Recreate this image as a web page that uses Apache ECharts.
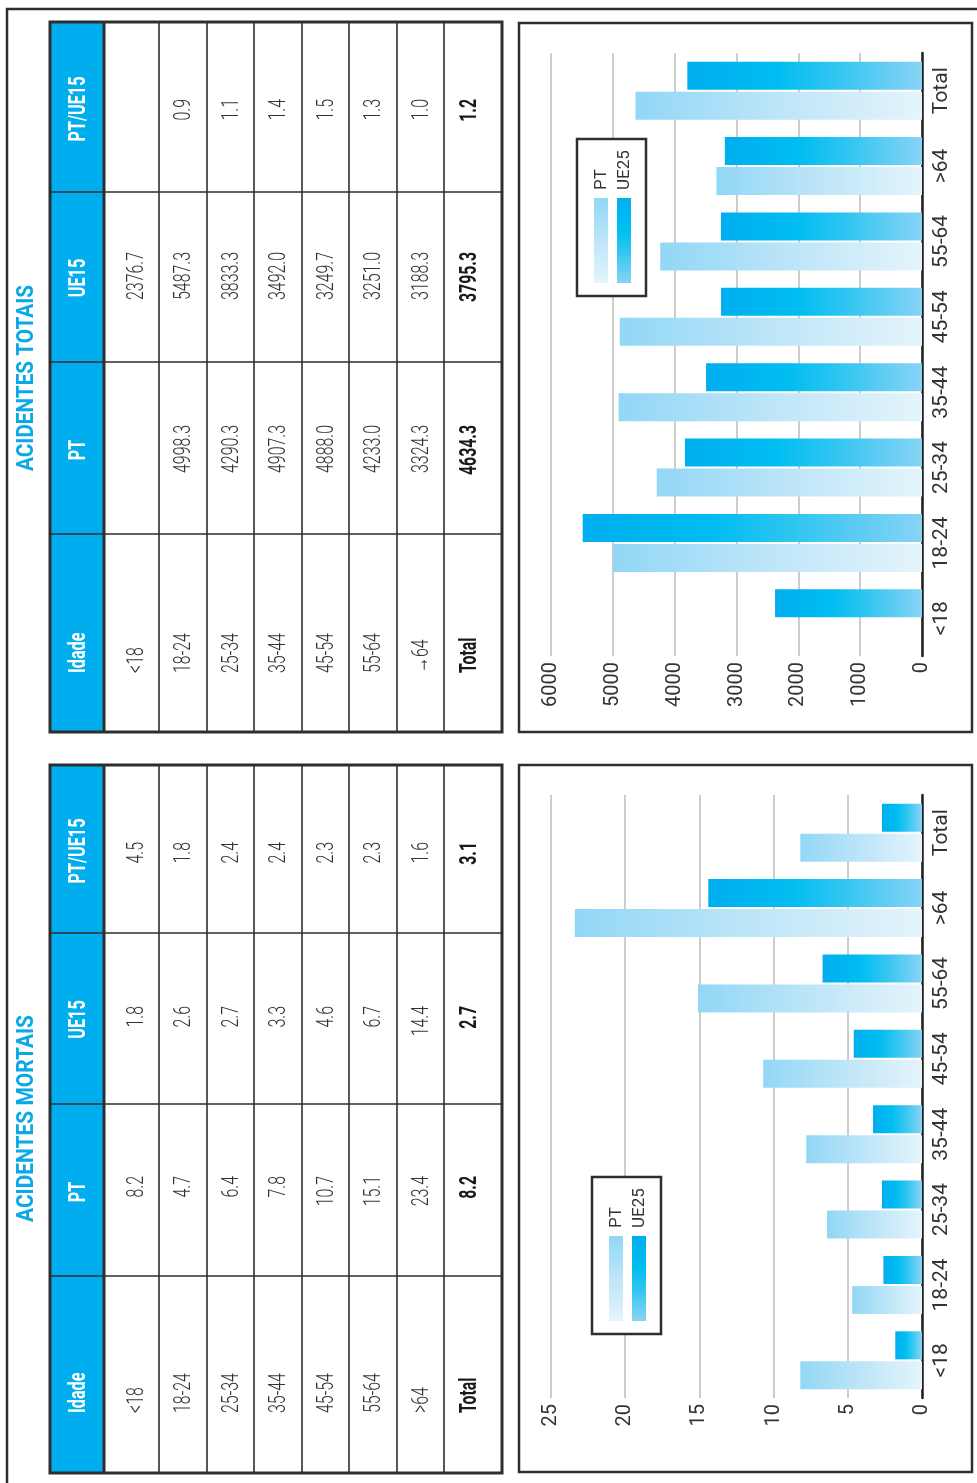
<!DOCTYPE html>
<html>
<head>
<meta charset="utf-8">
<script src="https://cdn.jsdelivr.net/npm/echarts@6/dist/echarts.min.js"></script>
<style>
  html, body { margin: 0; padding: 0; background: #fff; }
  #chart { width: 977px; height: 1483px; }
</style>
</head>
<body>
<div id="chart"></div>
<script>
// data
const categories = ['<18', '18-24', '25-34', '35-44', '45-54', '55-64', '>64', 'Total'];
const totaisAgeLabels = ['<18', '18-24', '25-34', '35-44', '45-54', '55-64', '→64', 'Total'];
const mortaisAgeLabels = ['<18', '18-24', '25-34', '35-44', '45-54', '55-64', '>64', 'Total'];
const tableHeaders = ['Idade', 'PT', 'UE15', 'PT/UE15'];
const seriesNames = ['PT', 'UE25'];

const totaisPT = [null, 4998.3, 4290.3, 4907.3, 4888.0, 4233.0, 3324.3, 4634.3];
const totaisUE = [2376.7, 5487.3, 3833.3, 3492.0, 3249.7, 3251.0, 3188.3, 3795.3];
const totaisRatio = [null, 0.9, 1.1, 1.4, 1.5, 1.3, 1.0, 1.2];

const mortaisPT = [8.2, 4.7, 6.4, 7.8, 10.7, 15.1, 23.4, 8.2];
const mortaisUE = [1.8, 2.6, 2.7, 3.3, 4.6, 6.7, 14.4, 2.7];
const mortaisRatio = [4.5, 1.8, 2.4, 2.4, 2.3, 2.3, 1.6, 3.1];

const totaisTicks = { min: 0, max: 6000, interval: 1000 };
const mortaisTicks = { min: 0, max: 25, interval: 5 };

const BLUE = '#00aeef';
const TITLE_BLUE = '#0aa9e6';
const LINE = '#2e2e2e';

// measuring, to squeeze Roboto into the narrow DIN-like look
const mctx = document.createElement('canvas').getContext('2d');
function fit(text, weight, size, target) {
  mctx.font = weight + ' ' + size + 'px Roboto';
  return target / mctx.measureText(text).width;
}
const dataScale = fit('4998.3', '300', 24, 48);
const boldScale = fit('4634.3', 'bold', 24, 50);
const headScale = fit('PT/UE15', 'bold', 23, 65);

const g = [];

function line(x1, y1, x2, y2, w, color) {
  g.push({ type: 'line', silent: true, shape: { x1, y1, x2, y2 },
    style: { stroke: color || LINE, lineWidth: w } });
}
function box(x, y, w, h, lw, fill, z) {
  g.push({ type: 'rect', silent: true, z: z || 0, shape: { x, y, width: w, height: h },
    style: { fill: fill || 'rgba(0,0,0,0)', stroke: LINE, lineWidth: lw } });
}
function vtext(str, x, y, size, weight, fill, align, scale, z) {
  g.push({ type: 'text', silent: true, x, y, z: z || 1, rotation: Math.PI / 2, scaleX: scale,
    style: { text: str, x: 0, y: 0, fontSize: size, fontWeight: weight, fontFamily: 'Roboto',
      fill, align, verticalAlign: 'middle' } });
}

// outer frame
box(7, 9, 1200, 1600, 2.5);

// tables
const rowX = [50, 104, 159, 207, 254, 302, 349, 397, 444, 502];
const textX = [79, 137, 184, 231.5, 279, 326.5, 374, 421.7, 470];

function table(cols, ends, idadeStart, labels, pt, ue, ratio) {
  const top = cols[0], bot = cols[4];
  g.push({ type: 'rect', silent: true, shape: { x: rowX[0], y: top, width: rowX[1] - rowX[0], height: bot - top },
    style: { fill: BLUE } });
  for (let i = 2; i < rowX.length - 1; i++) line(rowX[i], top, rowX[i], bot, 1.6);
  for (let j = 1; j < 4; j++) line(rowX[0], cols[j], rowX[9], cols[j], 1.6);
  line(rowX[1], top, rowX[1], bot, 3);
  box(rowX[0], top, rowX[9] - rowX[0], bot - top, 3);

  // header column
  vtext(tableHeaders[0], textX[0], idadeStart, 23, 'bold', '#fff', 'left', headScale);
  vtext(tableHeaders[1], textX[0], (cols[2] + cols[3]) / 2 + 2, 23, 'bold', '#fff', 'center', headScale);
  vtext(tableHeaders[2], textX[0], (cols[1] + cols[2]) / 2 + 1, 23, 'bold', '#fff', 'center', headScale);
  vtext(tableHeaders[3], textX[0], (cols[0] + cols[1]) / 2 + 2, 23, 'bold', '#fff', 'center', headScale);

  const fmt = v => (v == null ? '' : v.toFixed(1));
  for (let i = 0; i < labels.length; i++) {
    const x = textX[i + 1];
    const bold = i === labels.length - 1;
    const w = bold ? 'bold' : '300';
    const s = bold ? boldScale : dataScale;
    const c = bold ? '#1a1a1a' : '#333';
    vtext(labels[i], x, idadeStart, 24, w, c, 'left', s);
    vtext(fmt(pt[i]), x, ends[2], 24, w, c, 'right', s);
    vtext(fmt(ue[i]), x, ends[1], 24, w, c, 'right', s);
    vtext(fmt(ratio[i]), x, ends[0], 24, w, c, 'right', s);
  }
}

table([22, 192, 362, 534, 732], [99, 252, 425], 673, totaisAgeLabels, totaisPT, totaisUE, totaisRatio);
table([765, 933, 1104, 1276, 1473], [842, 1006, 1176], 1413, mortaisAgeLabels, mortaisPT, mortaisUE, mortaisRatio);

// titles
vtext('ACIDENTES TOTAIS', 27, 378, 24, 'bold', TITLE_BLUE, 'center', fit('ACIDENTES TOTAIS', 'bold', 24, 186));
vtext('ACIDENTES MORTAIS', 27, 1118.5, 24, 'bold', TITLE_BLUE, 'center', fit('ACIDENTES MORTAIS', 'bold', 24, 207));

// chart frames
box(519, 23, 453, 709, 2.5);
box(519, 765, 453, 707, 2.5);

// gradients
function grad(stops, x2, y2) {
  return new echarts.graphic.LinearGradient(0, 0, x2, y2, stops.map(s => ({ offset: s[0], color: s[1] })));
}
const ptStops = [[0, '#92d7f6'], [0.5, '#bde5f8'], [1, '#e4f4fb']];
const ueStops = [[0, '#00aeef'], [0.38, '#00bdf1'], [0.62, '#2fc5f1'], [1, '#88d3f5']];

// legends
function legend(x0, y0) {
  box(x0, y0, 69, 157, 2.5, '#fff', 20);
  const sw = [[17, ptStops], [40, ueStops]];
  sw.forEach((s, i) => {
    g.push({ type: 'rect', silent: true, z: 21, shape: { x: x0 + s[0], y: y0 + 59, width: 14, height: 85 },
      style: { fill: grad(s[1], 0, 1) } });
    vtext(seriesNames[i], x0 + s[0] + 7.5, y0 + 51, 17, 'normal', '#333', 'left', 1, 22);
  });
}
legend(577, 139);
legend(592, 1177);

function valueAxis(idx, ticks) {
  return {
    gridIndex: idx, type: 'value', inverse: true, position: 'bottom',
    min: ticks.min, max: ticks.max, interval: ticks.interval,
    axisLine: { show: false }, axisTick: { show: false },
    splitLine: { lineStyle: { color: '#bdbdbd', width: 1.5 } },
    axisLabel: { rotate: 90, margin: 6, fontSize: 20, color: '#333', fontFamily: 'Roboto',
      formatter: v => String(v) }
  };
}
function catAxis(idx) {
  return {
    gridIndex: idx, type: 'category', data: categories, position: 'right',
    axisLine: { onZero: false, lineStyle: { color: '#1e1e1e', width: 2.5 } },
    axisTick: { show: false },
    axisLabel: { rotate: 90, margin: 9, fontSize: 21, color: '#333', fontFamily: 'Roboto' }
  };
}
function bars(name, data, idx, stops) {
  return {
    name, type: 'bar', xAxisIndex: idx, yAxisIndex: idx, data,
    barWidth: 28, barGap: '7%', silent: true,
    itemStyle: { color: grad(stops, 1, 0) }
  };
}

const chart = echarts.init(document.getElementById('chart'), null, { renderer: 'canvas' });
chart.setOption({
  animation: false,
  backgroundColor: '#fff',
  grid: [
    { left: 551, right: 55, top: 53, bottom: 827 },
    { left: 551, right: 55, top: 795, bottom: 85 }
  ],
  xAxis: [valueAxis(0, totaisTicks), valueAxis(1, mortaisTicks)],
  yAxis: [catAxis(0), catAxis(1)],
  series: [
    bars(seriesNames[1], totaisUE, 0, ueStops),
    bars(seriesNames[0], totaisPT, 0, ptStops),
    bars(seriesNames[1], mortaisUE, 1, ueStops),
    bars(seriesNames[0], mortaisPT, 1, ptStops)
  ],
  graphic: { elements: g }
});
</script>
</body>
</html>
